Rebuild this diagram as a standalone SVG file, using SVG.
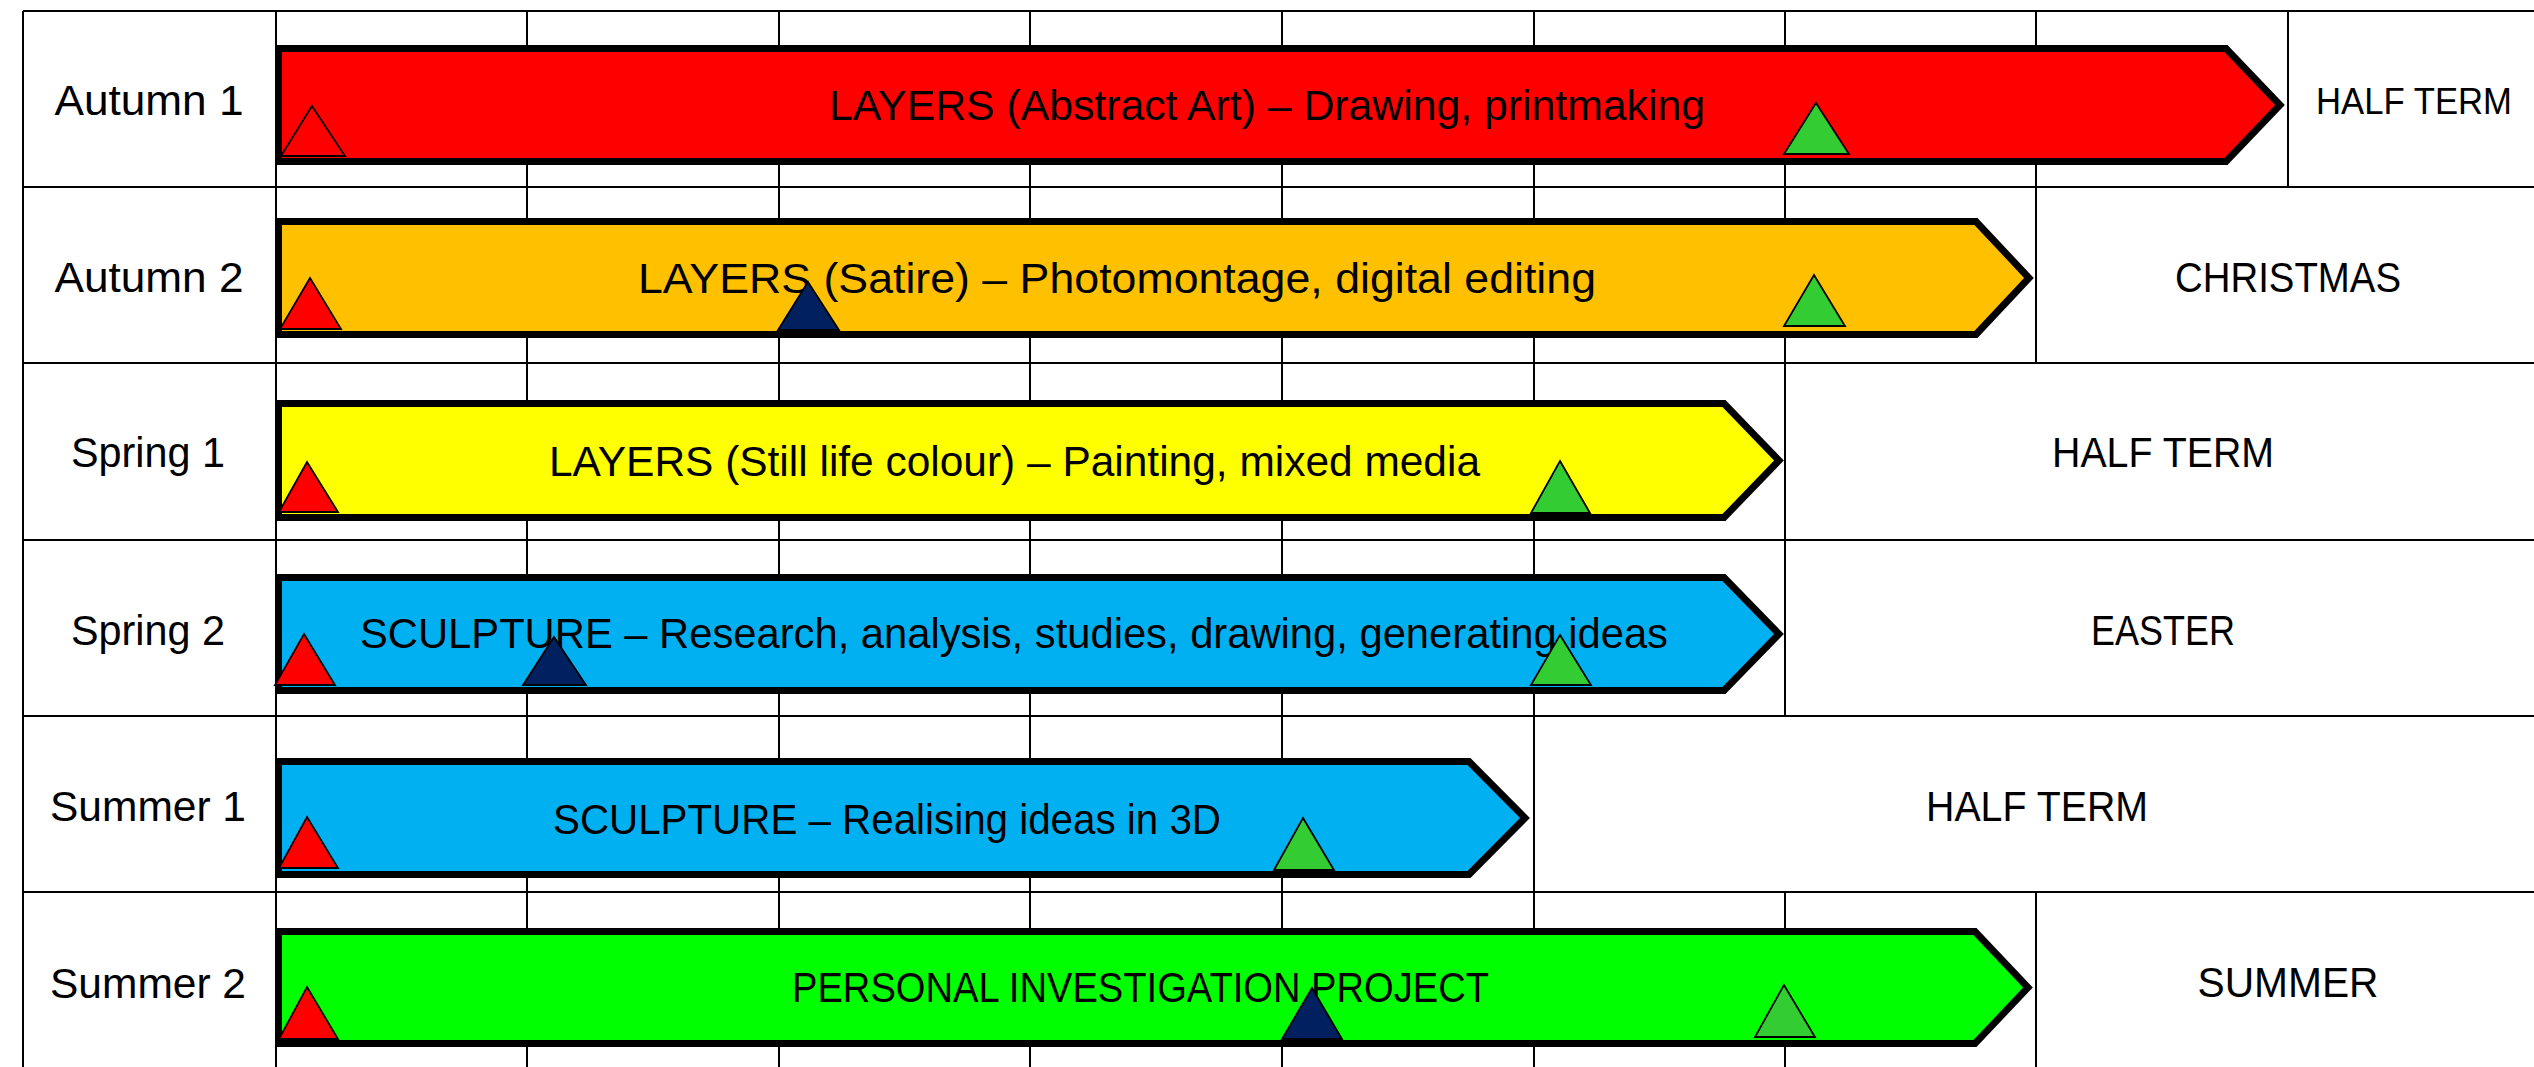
<svg xmlns="http://www.w3.org/2000/svg" width="2534" height="1067" viewBox="0 0 2534 1067">
<style>
.grid{stroke:#000;stroke-width:2;fill:none}
.bar{stroke:#000;stroke-width:7;stroke-linejoin:miter;stroke-miterlimit:10}
.tri{stroke:#000;stroke-width:1.8;stroke-linejoin:miter}
.red{fill:#FF0000}.navy{fill:#002060}.grn{fill:#33CC33}
text{font-family:"Liberation Sans",Arial,sans-serif;font-size:42px;fill:#000;text-anchor:middle}
</style>
<rect width="2534" height="1067" fill="#fff"/>
<g id="grid" class="grid">
<path d="M23,11H2534M23,187H2534M23,363H2534M23,540H2534M23,716H2534M23,892H2534"/>
<path d="M23,11V1067M276,11V1067"/>
<path d="M527,11V1067M779,11V1067M1030,11V1067M1282,11V1067"/>
<path d="M1534,11V716M1534,716V1067"/>
<path d="M1785,11V716M1785,892V1067"/>
<path d="M2036,11V363M2036,892V1067"/>
<path d="M2288,11V187"/>
</g>
<g id="labels">
<text id="autumn1" x="149" y="115" textLength="189" lengthAdjust="spacingAndGlyphs">Autumn 1</text>
<text id="autumn2" x="149" y="292" textLength="189" lengthAdjust="spacingAndGlyphs">Autumn 2</text>
<text id="spring1" x="148" y="467" textLength="154" lengthAdjust="spacingAndGlyphs">Spring 1</text>
<text id="spring2" x="148" y="645" textLength="154" lengthAdjust="spacingAndGlyphs">Spring 2</text>
<text id="summer1" x="148" y="821" textLength="196" lengthAdjust="spacingAndGlyphs">Summer 1</text>
<text id="summer2" x="148" y="998" textLength="196" lengthAdjust="spacingAndGlyphs">Summer 2</text>
</g>
<g id="breaks">
<text x="2414" y="114" style="font-size:37px" textLength="196" lengthAdjust="spacingAndGlyphs">HALF TERM</text>
<text x="2288" y="292" textLength="226" lengthAdjust="spacingAndGlyphs">CHRISTMAS</text>
<text x="2163" y="467" textLength="222" lengthAdjust="spacingAndGlyphs">HALF TERM</text>
<text x="2163" y="645" textLength="144" lengthAdjust="spacingAndGlyphs">EASTER</text>
<text x="2037" y="821" textLength="222" lengthAdjust="spacingAndGlyphs">HALF TERM</text>
<text x="2288" y="997" textLength="181" lengthAdjust="spacingAndGlyphs">SUMMER</text>
</g>
<g id="bar-autumn1">
<path class="bar" fill="#FF0000" d="M278.5,48.5H2226L2280,105L2226,161.5H278.5Z"/>
<text x="1267" y="120" textLength="876" lengthAdjust="spacingAndGlyphs">LAYERS (Abstract Art) – Drawing, printmaking</text>
<polygon class="tri red" points="312,106 345,156 281,156"/>
<polygon class="tri grn" points="1816,103 1849,154 1784,154"/>
</g>
<g id="bar-autumn2">
<path class="bar" fill="#FFC000" d="M278.5,221.5H1976L2029,278L1976,334.5H278.5Z"/>
<text x="1117" y="293" textLength="958" lengthAdjust="spacingAndGlyphs">LAYERS (Satire) – Photomontage, digital editing</text>
<polygon class="tri red" points="310,278 341,329 280,329"/>
<polygon class="tri navy" points="808,282 839,330 778,330"/>
<polygon class="tri grn" points="1814,275 1845,326 1784,326"/>
</g>
<g id="bar-spring1">
<path class="bar" fill="#FFFF00" d="M278.5,403.5H1724L1779,460.5L1724,517.5H278.5Z"/>
<text x="1014.5" y="476" textLength="931" lengthAdjust="spacingAndGlyphs">LAYERS (Still life colour) – Painting, mixed media</text>
<polygon class="tri red" points="307,462 338,512 279,512"/>
<polygon class="tri grn" points="1560,461 1590,513 1531,513"/>
</g>
<g id="bar-spring2">
<path class="bar" fill="#00B0F0" d="M278.5,577.5H1724L1779,634L1724,690.5H278.5Z"/>
<text x="1014" y="648" textLength="1308" lengthAdjust="spacingAndGlyphs">SCULPTURE – Research, analysis, studies, drawing, generating ideas</text>
<polygon class="tri red" points="304,634 335,685 275,685"/>
<polygon class="tri navy" points="554,637 586,685 523,685"/>
<polygon class="tri grn" points="1560,635 1591,685 1531,685"/>
</g>
<g id="bar-summer1">
<path class="bar" fill="#00B0F0" d="M278.5,761.5H1469L1525,818L1469,874.5H278.5Z"/>
<text x="887" y="834" textLength="668" lengthAdjust="spacingAndGlyphs">SCULPTURE – Realising ideas in 3D</text>
<polygon class="tri red" points="307,817 338,868 279,868"/>
<polygon class="tri grn" points="1303,818 1334,870 1274,870"/>
</g>
<g id="bar-summer2">
<path class="bar" fill="#00FF00" d="M278.5,931.5H1975L2028,987.5L1975,1043.5H278.5Z"/>
<text x="1140.5" y="1002" textLength="697" lengthAdjust="spacingAndGlyphs">PERSONAL INVESTIGATION PROJECT</text>
<polygon class="tri red" points="307,987 338,1039 279,1039"/>
<polygon class="tri navy" points="1312,988 1342,1039 1282,1039"/>
<polygon class="tri grn" points="1784,985 1815,1037 1755,1037"/>
</g>
</svg>
